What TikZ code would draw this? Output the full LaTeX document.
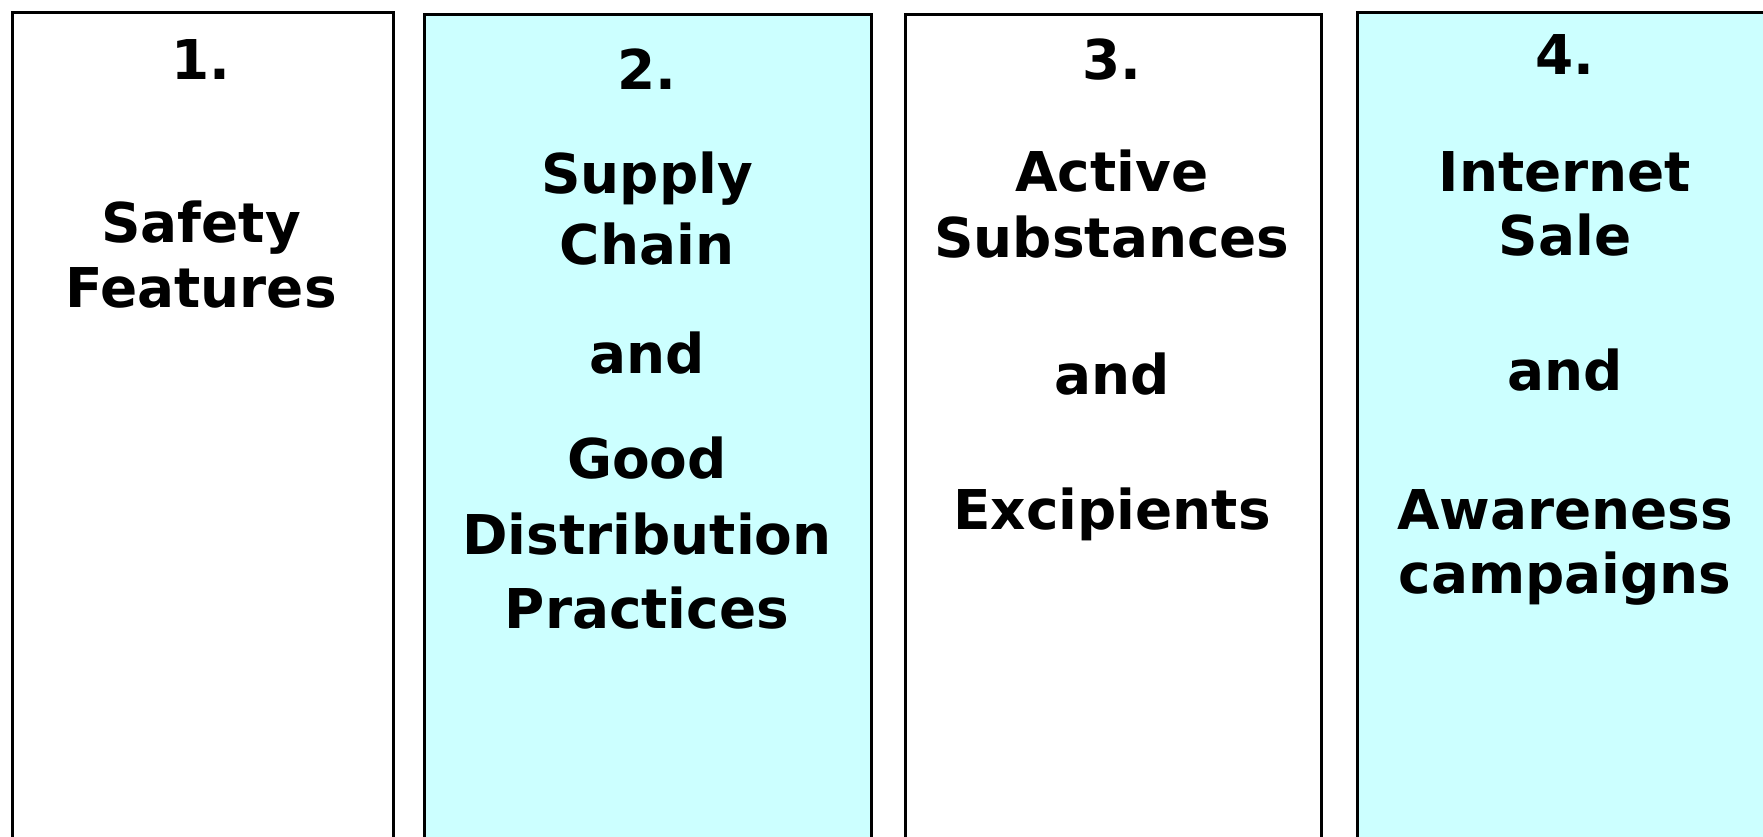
\documentclass[tikz,border=0pt]{standalone}
\usepackage{fontspec}
\setmainfont{DejaVu Sans}
\definecolor{panelcyan}{HTML}{CCFFFF}
\begin{document}
\begin{tikzpicture}[x=0.01cm,y=-0.01cm,
  panel/.style={draw=black,line width=0.8pt,anchor=north west,inner sep=0pt,minimum height=9cm},
  word/.style={anchor=base,inner sep=0pt,yshift=0.03cm,font=\fontsize{15.6}{19}\selectfont\bfseries}]
\useasboundingbox (0,0) rectangle (1763,836);
\clip (0,0) rectangle (1763,836);
% the four columns
\node[panel,fill=white,minimum width=3.81cm] (box1) at (11,11) {};
\node[panel,fill=panelcyan,minimum width=4.47cm] (box2) at (423,13) {};
\node[panel,fill=white,minimum width=4.16cm] (box3) at (904,13) {};
\node[panel,fill=panelcyan,minimum width=4.18cm] (box4) at (1356,11) {};
% column 1
\node[word] (num1) at (201,82) {1.};
\node[word] (safety) at (201,245) {Safety};
\node[word] (features) at (201,310) {Features};
% column 2
\node[word] (num2) at (647,92) {2.};
\node[word] (supply) at (647,196) {Supply};
\node[word] (chain) at (647,267) {Chain};
\node[word] (and2) at (647,376) {and};
\node[word] (good) at (647,481) {Good};
\node[word] (distribution) at (647,557) {Distribution};
\node[word] (practices) at (647,631) {Practices};
% column 3
\node[word] (num3) at (1112,82) {3.};
\node[word] (active) at (1112,194) {Active};
\node[word] (substances) at (1112,260) {Substances};
\node[word] (and3) at (1112,397) {and};
\node[word] (excipients) at (1112,532) {Excipients};
% column 4
\node[word] (num4) at (1565,77) {4.};
\node[word] (internet) at (1565,194) {Internet};
\node[word] (sale) at (1565,258) {Sale};
\node[word] (and4) at (1565,393) {and};
\node[word] (awareness) at (1565,532) {Awareness};
\node[word] (campaigns) at (1565,596) {campaigns};
\end{tikzpicture}
\end{document}
